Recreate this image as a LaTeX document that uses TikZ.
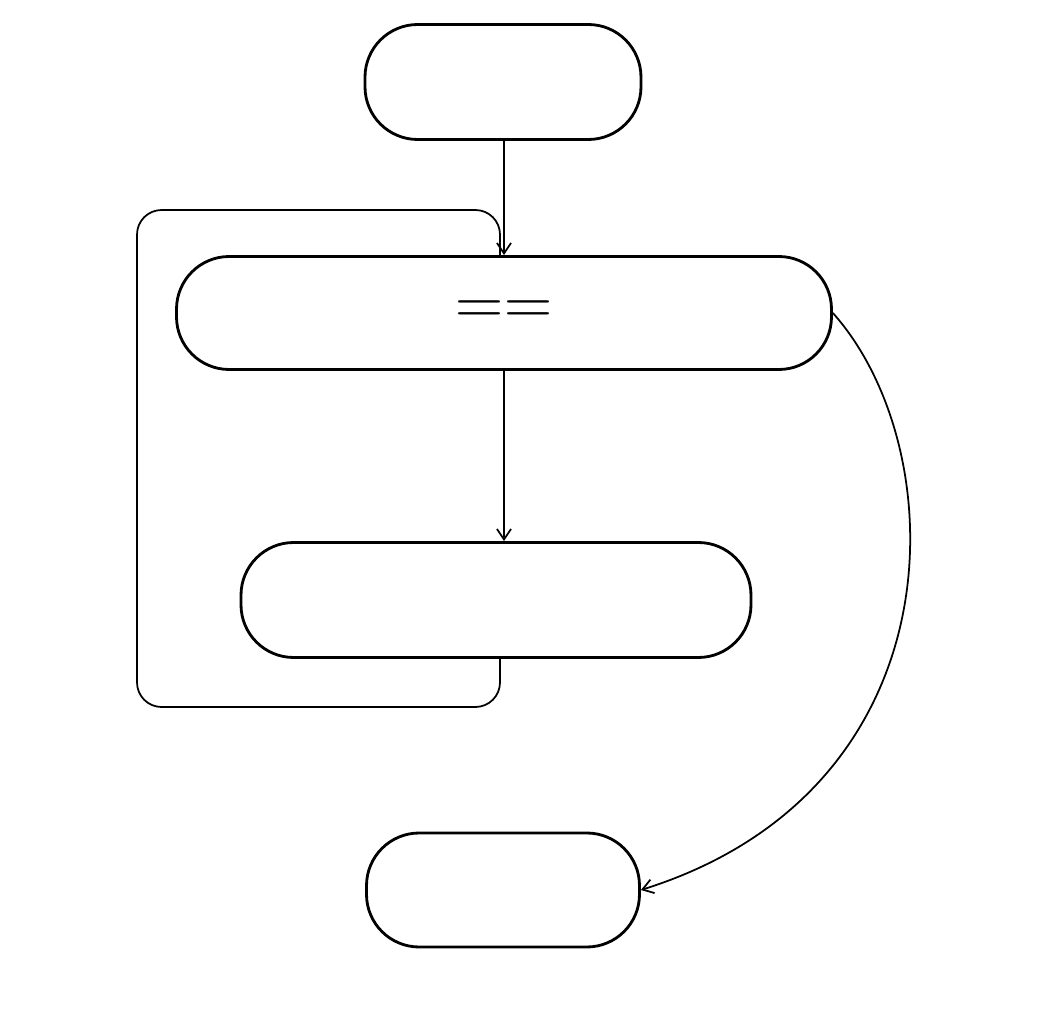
\documentclass[tikz,border=0pt]{standalone}
\usetikzlibrary{arrows.meta}
\begin{document}
\begin{tikzpicture}[x=0.02cm,y=-0.02cm,
  box/.style={draw,line width=1.6pt,rounded corners=30pt,inner sep=0pt,font=\fontsize{38}{40}\selectfont},
  ln/.style={line width=1pt},
  arr/.style={ln,-{Straight Barb[length=6pt,width=8pt]}},
  lab/.style={font=\fontsize{24}{26}\selectfont}]
\useasboundingbox (0,0) rectangle (1049,1024);
\node[box,minimum width=276*0.02cm,minimum height=115*0.02cm] (s) at (503,82) {शुरू करें};
\node[box,minimum width=655*0.02cm,minimum height=113*0.02cm] (c) at (504,313) {शर्त == सत्य};
\node[box,minimum width=510*0.02cm,minimum height=115*0.02cm] (a) at (496,600) {कार्य करें};
\node[box,minimum width=273*0.02cm,minimum height=114*0.02cm] (e) at (503,890) {समाप्त};
\draw[arr] (s.south -| 504,0) -- (c.north -| 504,0);
\draw[arr] (c.south -| 504,0) -- node[lab,left=18pt,pos=0.4] {हाँ} (a.north -| 504,0);
\coordinate (l1) at (500,707);
\coordinate (l2) at (137,707);
\coordinate (l3) at (137,210);
\coordinate (l4) at (500,210);
\draw[ln,rounded corners=14pt] (a.south -| 500,0) -- (l1) -- (l2) -- node[lab,rotate=90,anchor=south,pos=0.5,yshift=6pt] {लूप} (l3) -- (l4) -- (c.north -| 500,0);
\draw[arr] (c.east) .. controls (955,450) and (960,790) .. node[lab,pos=0.5,right=24pt] {नहीं} (e.east);
\end{tikzpicture}
\end{document}
